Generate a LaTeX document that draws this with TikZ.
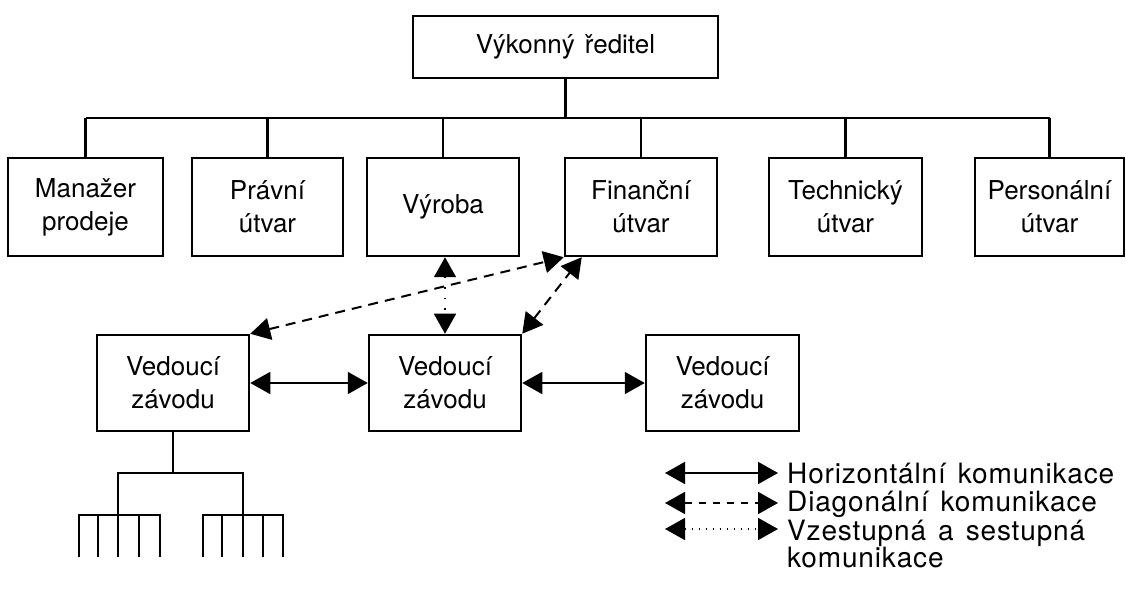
\documentclass[tikz,border=0pt]{standalone}
\usepackage{fontspec}
\setmainfont{TeX Gyre Heros}[WordSpace=1.4]
\newfontfamily\legendfont{TeX Gyre Heros}[WordSpace=1.4, LetterSpace=3]
\usetikzlibrary{arrows.meta}
\begin{document}
\begin{tikzpicture}[x=1pt,y=-1pt,
  box/.style={draw, line width=2.5pt, rectangle, inner sep=0pt, align=center,
    font=\fontsize{26}{33}\selectfont},
  org/.style={line width=2.5pt},
  tip/.tip={Triangle[length=20pt,width=22pt]},
  link/.style={line width=1.7pt, tip-tip},
  diag/.style={link, line width=2pt, dash pattern=on 10pt off 7pt},
  vert/.style={link, dash pattern=on 1.5pt off 9pt},
  legtext/.style={anchor=west, inner sep=0pt, align=left,
    font=\legendfont\fontsize{28}{28}\selectfont},
]
\path[use as bounding box, fill=white] (0,0) rectangle (1126,593);

% top level
\node[box, minimum width=305pt, minimum height=62pt] (ceo) at (565.5,47) {Výkonný ředitel};

% departments
\node[box, minimum width=155pt, minimum height=98pt] (man)  at (85.5,207)  {Manažer\\prodeje};
\node[box, minimum width=151pt, minimum height=98pt] (law)  at (267.5,207) {Právní\\útvar};
\node[box, minimum width=152pt, minimum height=98pt] (prod) at (443,207)   {Výroba};
\node[box, minimum width=152pt, minimum height=98pt] (fin)  at (641,207)   {Finanční\\útvar};
\node[box, minimum width=153pt, minimum height=98pt] (tech) at (845.5,207) {Technický\\útvar};
\node[box, minimum width=149pt, minimum height=98pt] (pers) at (1049.5,207){Personální\\útvar};

% plant managers
\node[box, minimum width=152pt, minimum height=96pt] (v1) at (173,383)   {Vedoucí\\závodu};
\node[box, minimum width=152pt, minimum height=96pt] (v2) at (445,383)   {Vedoucí\\závodu};
\node[box, minimum width=153pt, minimum height=96pt] (v3) at (722.5,383) {Vedoucí\\závodu};

% reporting lines
\coordinate (bus) at (565.5,118);
\draw[org] (ceo.south) -- (bus);
\draw[org] (man.north |- bus) -- (pers.north |- bus);
\foreach \n in {man,law,prod,fin,tech,pers}
  \draw[org] (\n.north |- bus) -- (\n.north);

% sub-tree below the first plant
\coordinate (bar) at (173,473);
\coordinate (ga) at (118,515);
\coordinate (gb) at (243,515);
\draw[org] (v1.south) -- (bar);
\draw[org] (ga) |- (bar) -| (gb);
\draw[org] (79,557) |- (160,515) -- (160,557);
\foreach \x in {98,118,139} \draw[org] (\x,515) -- (\x,557);
\draw[org] (203,557) |- (283,515) -- (283,557);
\foreach \x in {222,243,263} \draw[org] (\x,515) -- (\x,557);

% communication links
\draw[link] (v1.east) -- (v2.west);
\draw[link] (v2.east) -- (v3.west);
\draw[vert] (prod.south -| v2.north) -- (v2.north);
\draw[diag] (v1.north east) -- (fin.south west);
\draw[diag] (v2.north east) -- ([xshift=18pt]fin.south west);

% legend
\coordinate (l1a) at (665,473); \coordinate (l1b) at (778,473);
\coordinate (l2a) at (665,503); \coordinate (l2b) at (778,503);
\coordinate (l3a) at (665,529); \coordinate (l3b) at (778,529);
\draw[link] (l1a) -- (l1b);
\draw[link, dash pattern=on 7pt off 7pt] (l2a) -- (l2b);
\draw[link, dash pattern=on 1.5pt off 5.5pt] (l3a) -- (l3b);
\node[legtext] (t1) at (787,474) {Horizontální komunikace};
\node[legtext] (t2) at (787,504) {Diagonální komunikace};
\node[legtext] (t3) at (787,544) {Vzestupná a sestupná\\komunikace};
\end{tikzpicture}
\end{document}
